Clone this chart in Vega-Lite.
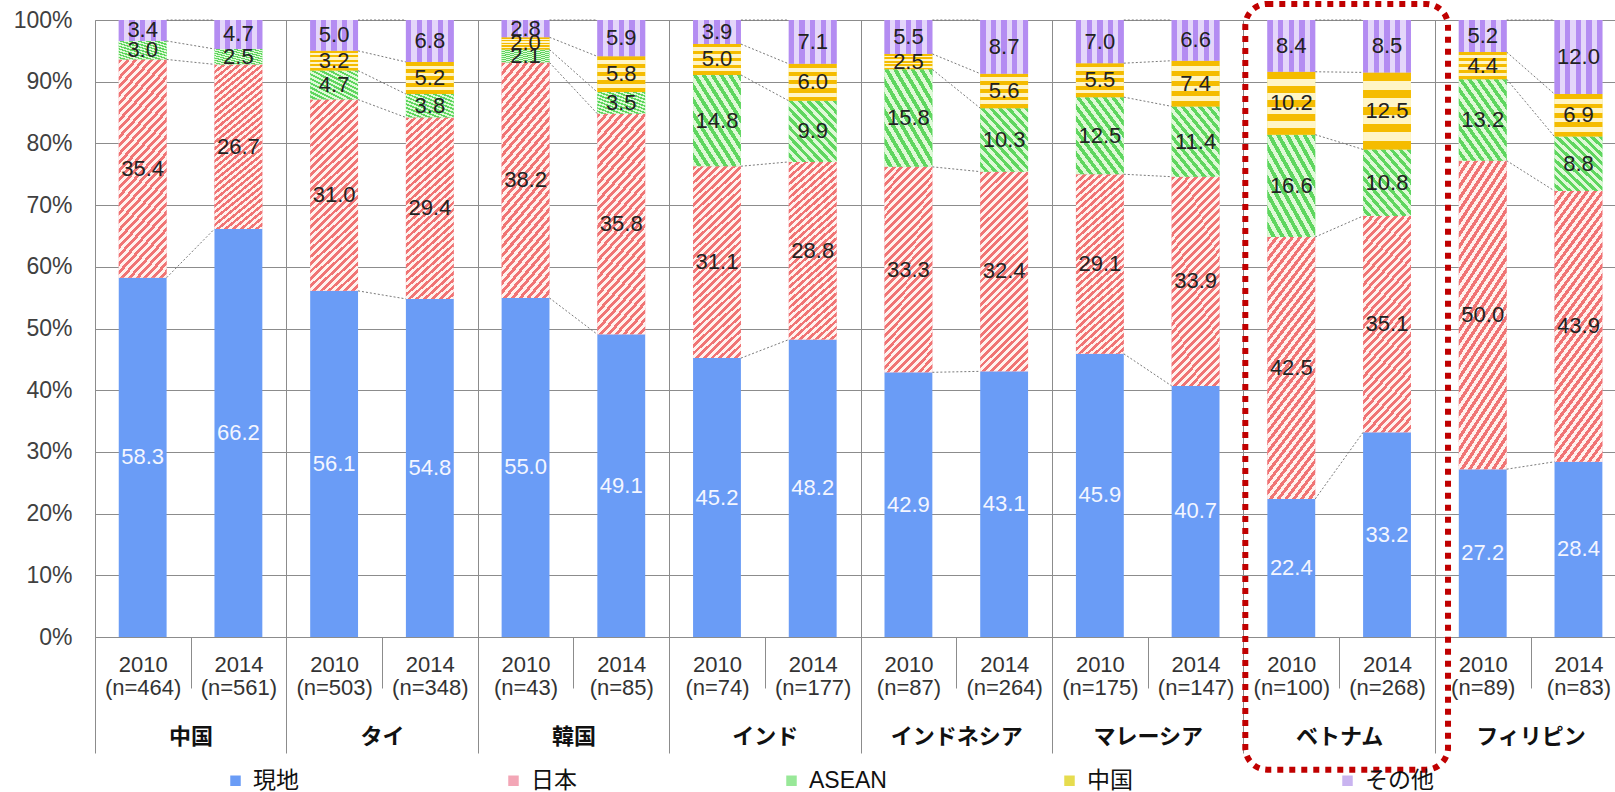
{
  "$schema": "https://vega.github.io/schema/vega-lite/v6.json",
  "width": 1520,
  "height": 617,
  "autosize": {"type": "none"},
  "padding": {"left": 95, "top": 20, "right": 0, "bottom": 155},
  "background": "white",
  "config": {"view": {"stroke": null}, "font": "Liberation Sans"},
  "data": {
    "values": [
      {"country": "中国", "year": "2010", "n": 464, "現地": 58.3, "日本": 35.4, "ASEAN": 3.0, "その他": 3.4},
      {"country": "中国", "year": "2014", "n": 561, "現地": 66.2, "日本": 26.7, "ASEAN": 2.5, "その他": 4.7},
      {"country": "タイ", "year": "2010", "n": 503, "現地": 56.1, "日本": 31.0, "ASEAN": 4.7, "中国": 3.2, "その他": 5.0},
      {"country": "タイ", "year": "2014", "n": 348, "現地": 54.8, "日本": 29.4, "ASEAN": 3.8, "中国": 5.2, "その他": 6.8},
      {"country": "韓国", "year": "2010", "n": 43, "現地": 55.0, "日本": 38.2, "ASEAN": 2.1, "中国": 2.0, "その他": 2.8},
      {"country": "韓国", "year": "2014", "n": 85, "現地": 49.1, "日本": 35.8, "ASEAN": 3.5, "中国": 5.8, "その他": 5.9},
      {"country": "インド", "year": "2010", "n": 74, "現地": 45.2, "日本": 31.1, "ASEAN": 14.8, "中国": 5.0, "その他": 3.9},
      {"country": "インド", "year": "2014", "n": 177, "現地": 48.2, "日本": 28.8, "ASEAN": 9.9, "中国": 6.0, "その他": 7.1},
      {"country": "インドネシア", "year": "2010", "n": 87, "現地": 42.9, "日本": 33.3, "ASEAN": 15.8, "中国": 2.5, "その他": 5.5},
      {"country": "インドネシア", "year": "2014", "n": 264, "現地": 43.1, "日本": 32.4, "ASEAN": 10.3, "中国": 5.6, "その他": 8.7},
      {"country": "マレーシア", "year": "2010", "n": 175, "現地": 45.9, "日本": 29.1, "ASEAN": 12.5, "中国": 5.5, "その他": 7.0},
      {"country": "マレーシア", "year": "2014", "n": 147, "現地": 40.7, "日本": 33.9, "ASEAN": 11.4, "中国": 7.4, "その他": 6.6},
      {"country": "ベトナム", "year": "2010", "n": 100, "現地": 22.4, "日本": 42.5, "ASEAN": 16.6, "中国": 10.2, "その他": 8.4},
      {"country": "ベトナム", "year": "2014", "n": 268, "現地": 33.2, "日本": 35.1, "ASEAN": 10.8, "中国": 12.5, "その他": 8.5},
      {"country": "フィリピン", "year": "2010", "n": 89, "現地": 27.2, "日本": 50.0, "ASEAN": 13.2, "中国": 4.4, "その他": 5.2},
      {"country": "フィリピン", "year": "2014", "n": 83, "現地": 28.4, "日本": 43.9, "ASEAN": 8.8, "中国": 6.9, "その他": 12.0}
    ]
  },
  "transform": [
    {"fold": ["現地", "日本", "ASEAN", "中国", "その他"], "as": ["cat", "v"]},
    {"filter": "isValid(datum.v)"},
    {"calculate": "datum.country + '|' + datum.year + '|(n=' + datum.n + ')'", "as": "key"},
    {"calculate": "indexof(['現地','日本','ASEAN','中国','その他'], datum.cat)", "as": "o"},
    {"stack": "v", "groupby": ["key"], "sort": [{"field": "o", "order": "ascending"}], "offset": "normalize", "as": ["y0", "y1"]},
    {"calculate": "(datum.y0 + datum.y1) / 2", "as": "mid"}
  ],
  "resolve": {"axis": {"x": "independent", "y": "independent"}},
  "layer": [
    {
      "mark": {"type": "bar", "strokeWidth": 0},
      "encoding": {
        "x": {
          "field": "key", "type": "nominal", "sort": null,
          "scale": {
            "domain": ["中国|2010|(n=464)", "中国|2014|(n=561)", "タイ|2010|(n=503)", "タイ|2014|(n=348)", "韓国|2010|(n=43)", "韓国|2014|(n=85)", "インド|2010|(n=74)", "インド|2014|(n=177)", "インドネシア|2010|(n=87)", "インドネシア|2014|(n=264)", "マレーシア|2010|(n=175)", "マレーシア|2014|(n=147)", "ベトナム|2010|(n=100)", "ベトナム|2014|(n=268)", "フィリピン|2010|(n=89)", "フィリピン|2014|(n=83)"],
            "paddingInner": 0.5, "paddingOuter": 0.19, "align": 0.653
          },
          "axis": {
            "title": null, "orient": "bottom",
            "labelExpr": "[split(datum.value,'|')[1], split(datum.value,'|')[2]]",
            "labelAngle": 0, "labelFontSize": 22, "labelLineHeight": 23,
            "labelColor": "#333333", "labelFont": "Liberation Sans", "labelBaseline": "top",
            "labelOverlap": false, "tickOffset": -47.86, "labelOffset": 47.86,
            "tickSize": 51, "tickColor": "#8c8c8c", "domainColor": "#8c8c8c", "labelPadding": -34,
            "grid": true, "gridColor": "#8c8c8c",
            "gridOpacity": {"condition": {"test": "indexof(datum.value,'2010')>=0", "value": 1}, "value": 0}
          }
        },
        "y": {
          "field": "y0", "type": "quantitative", "stack": null,
          "scale": {"domain": [0, 1], "nice": false},
          "axis": {
            "title": null, "format": ".0%", "values": [0, 0.1, 0.2, 0.3, 0.4, 0.5, 0.6, 0.7, 0.8, 0.9, 1],
            "grid": true, "gridColor": "#8c8c8c", "domainColor": "#8c8c8c", "ticks": false,
            "labelFontSize": 23, "labelColor": "#404040", "labelPadding": 23, "labelFont": "Liberation Sans"
          }
        },
        "y2": {"field": "y1"},
        "color": {
          "field": "cat", "type": "nominal",
          "scale": {"domain": ["現地", "日本", "ASEAN", "中国", "その他"], "range": ["#6a9cf6", "#f3a6b6", "#98e898", "#e6dc4e", "#c9b4f0"]},
          "legend": {
            "title": null, "orient": "none", "legendX": 129, "legendY": 749,
            "direction": "horizontal", "columns": 5, "gridAlign": "all", "columnPadding": 171,
            "symbolType": "square", "symbolSize": 110, "symbolStrokeWidth": 0,
            "labelFontSize": 23, "labelFont": "Liberation Sans, Noto Sans CJK JP", "labelColor": "#111111",
            "labelOffset": 6, "padding": 0
          }
        }
      }
    },
    {
      "transform": [{"filter": "datum.cat == '日本'"}],
      "mark": {
        "type": "bar", "strokeWidth": 0,
        "fill": {
          "gradient": "linear", "x1": 0, "y1": 0, "x2": 0.279, "y2": 1.172,
          "stops": [
            {"offset": 0, "color": "#f07474"}, {"offset": 0.015625, "color": "#f07474"}, {"offset": 0.015625, "color": "#fff2ee"}, {"offset": 0.03125, "color": "#fff2ee"},
            {"offset": 0.03125, "color": "#f07474"}, {"offset": 0.046875, "color": "#f07474"}, {"offset": 0.046875, "color": "#fff2ee"}, {"offset": 0.0625, "color": "#fff2ee"},
            {"offset": 0.0625, "color": "#f07474"}, {"offset": 0.078125, "color": "#f07474"}, {"offset": 0.078125, "color": "#fff2ee"}, {"offset": 0.09375, "color": "#fff2ee"},
            {"offset": 0.09375, "color": "#f07474"}, {"offset": 0.109375, "color": "#f07474"}, {"offset": 0.109375, "color": "#fff2ee"}, {"offset": 0.125, "color": "#fff2ee"},
            {"offset": 0.125, "color": "#f07474"}, {"offset": 0.140625, "color": "#f07474"}, {"offset": 0.140625, "color": "#fff2ee"}, {"offset": 0.15625, "color": "#fff2ee"},
            {"offset": 0.15625, "color": "#f07474"}, {"offset": 0.171875, "color": "#f07474"}, {"offset": 0.171875, "color": "#fff2ee"}, {"offset": 0.1875, "color": "#fff2ee"},
            {"offset": 0.1875, "color": "#f07474"}, {"offset": 0.203125, "color": "#f07474"}, {"offset": 0.203125, "color": "#fff2ee"}, {"offset": 0.21875, "color": "#fff2ee"},
            {"offset": 0.21875, "color": "#f07474"}, {"offset": 0.234375, "color": "#f07474"}, {"offset": 0.234375, "color": "#fff2ee"}, {"offset": 0.25, "color": "#fff2ee"},
            {"offset": 0.25, "color": "#f07474"}, {"offset": 0.265625, "color": "#f07474"}, {"offset": 0.265625, "color": "#fff2ee"}, {"offset": 0.28125, "color": "#fff2ee"},
            {"offset": 0.28125, "color": "#f07474"}, {"offset": 0.296875, "color": "#f07474"}, {"offset": 0.296875, "color": "#fff2ee"}, {"offset": 0.3125, "color": "#fff2ee"},
            {"offset": 0.3125, "color": "#f07474"}, {"offset": 0.328125, "color": "#f07474"}, {"offset": 0.328125, "color": "#fff2ee"}, {"offset": 0.34375, "color": "#fff2ee"},
            {"offset": 0.34375, "color": "#f07474"}, {"offset": 0.359375, "color": "#f07474"}, {"offset": 0.359375, "color": "#fff2ee"}, {"offset": 0.375, "color": "#fff2ee"},
            {"offset": 0.375, "color": "#f07474"}, {"offset": 0.390625, "color": "#f07474"}, {"offset": 0.390625, "color": "#fff2ee"}, {"offset": 0.40625, "color": "#fff2ee"},
            {"offset": 0.40625, "color": "#f07474"}, {"offset": 0.421875, "color": "#f07474"}, {"offset": 0.421875, "color": "#fff2ee"}, {"offset": 0.4375, "color": "#fff2ee"},
            {"offset": 0.4375, "color": "#f07474"}, {"offset": 0.453125, "color": "#f07474"}, {"offset": 0.453125, "color": "#fff2ee"}, {"offset": 0.46875, "color": "#fff2ee"},
            {"offset": 0.46875, "color": "#f07474"}, {"offset": 0.484375, "color": "#f07474"}, {"offset": 0.484375, "color": "#fff2ee"}, {"offset": 0.5, "color": "#fff2ee"},
            {"offset": 0.5, "color": "#f07474"}, {"offset": 0.515625, "color": "#f07474"}, {"offset": 0.515625, "color": "#fff2ee"}, {"offset": 0.53125, "color": "#fff2ee"},
            {"offset": 0.53125, "color": "#f07474"}, {"offset": 0.546875, "color": "#f07474"}, {"offset": 0.546875, "color": "#fff2ee"}, {"offset": 0.5625, "color": "#fff2ee"},
            {"offset": 0.5625, "color": "#f07474"}, {"offset": 0.578125, "color": "#f07474"}, {"offset": 0.578125, "color": "#fff2ee"}, {"offset": 0.59375, "color": "#fff2ee"},
            {"offset": 0.59375, "color": "#f07474"}, {"offset": 0.609375, "color": "#f07474"}, {"offset": 0.609375, "color": "#fff2ee"}, {"offset": 0.625, "color": "#fff2ee"},
            {"offset": 0.625, "color": "#f07474"}, {"offset": 0.640625, "color": "#f07474"}, {"offset": 0.640625, "color": "#fff2ee"}, {"offset": 0.65625, "color": "#fff2ee"},
            {"offset": 0.65625, "color": "#f07474"}, {"offset": 0.671875, "color": "#f07474"}, {"offset": 0.671875, "color": "#fff2ee"}, {"offset": 0.6875, "color": "#fff2ee"},
            {"offset": 0.6875, "color": "#f07474"}, {"offset": 0.703125, "color": "#f07474"}, {"offset": 0.703125, "color": "#fff2ee"}, {"offset": 0.71875, "color": "#fff2ee"},
            {"offset": 0.71875, "color": "#f07474"}, {"offset": 0.734375, "color": "#f07474"}, {"offset": 0.734375, "color": "#fff2ee"}, {"offset": 0.75, "color": "#fff2ee"},
            {"offset": 0.75, "color": "#f07474"}, {"offset": 0.765625, "color": "#f07474"}, {"offset": 0.765625, "color": "#fff2ee"}, {"offset": 0.78125, "color": "#fff2ee"},
            {"offset": 0.78125, "color": "#f07474"}, {"offset": 0.796875, "color": "#f07474"}, {"offset": 0.796875, "color": "#fff2ee"}, {"offset": 0.8125, "color": "#fff2ee"},
            {"offset": 0.8125, "color": "#f07474"}, {"offset": 0.828125, "color": "#f07474"}, {"offset": 0.828125, "color": "#fff2ee"}, {"offset": 0.84375, "color": "#fff2ee"},
            {"offset": 0.84375, "color": "#f07474"}, {"offset": 0.859375, "color": "#f07474"}, {"offset": 0.859375, "color": "#fff2ee"}, {"offset": 0.875, "color": "#fff2ee"},
            {"offset": 0.875, "color": "#f07474"}, {"offset": 0.890625, "color": "#f07474"}, {"offset": 0.890625, "color": "#fff2ee"}, {"offset": 0.90625, "color": "#fff2ee"},
            {"offset": 0.90625, "color": "#f07474"}, {"offset": 0.921875, "color": "#f07474"}, {"offset": 0.921875, "color": "#fff2ee"}, {"offset": 0.9375, "color": "#fff2ee"},
            {"offset": 0.9375, "color": "#f07474"}, {"offset": 0.953125, "color": "#f07474"}, {"offset": 0.953125, "color": "#fff2ee"}, {"offset": 0.96875, "color": "#fff2ee"},
            {"offset": 0.96875, "color": "#f07474"}, {"offset": 0.984375, "color": "#f07474"}, {"offset": 0.984375, "color": "#fff2ee"}, {"offset": 1, "color": "#fff2ee"}
          ]
        }
      },
      "encoding": {
        "x": {"field": "key", "type": "nominal", "sort": null, "axis": null},
        "y": {"field": "y0", "type": "quantitative", "stack": null, "axis": null},
        "y2": {"field": "y1"}
      }
    },
    {
      "transform": [{"filter": "datum.cat == 'ASEAN'"}],
      "mark": {
        "type": "bar", "strokeWidth": 0,
        "fill": {
          "gradient": "linear", "x1": 1, "y1": 0, "x2": 0.098, "y2": 1.082,
          "stops": [
            {"offset": 0, "color": "#5fd65f"}, {"offset": 0.041667, "color": "#5fd65f"}, {"offset": 0.041667, "color": "#e0f9d8"}, {"offset": 0.083333, "color": "#e0f9d8"},
            {"offset": 0.083333, "color": "#5fd65f"}, {"offset": 0.125, "color": "#5fd65f"}, {"offset": 0.125, "color": "#e0f9d8"}, {"offset": 0.166667, "color": "#e0f9d8"},
            {"offset": 0.166667, "color": "#5fd65f"}, {"offset": 0.208333, "color": "#5fd65f"}, {"offset": 0.208333, "color": "#e0f9d8"}, {"offset": 0.25, "color": "#e0f9d8"},
            {"offset": 0.25, "color": "#5fd65f"}, {"offset": 0.291667, "color": "#5fd65f"}, {"offset": 0.291667, "color": "#e0f9d8"}, {"offset": 0.333333, "color": "#e0f9d8"},
            {"offset": 0.333333, "color": "#5fd65f"}, {"offset": 0.375, "color": "#5fd65f"}, {"offset": 0.375, "color": "#e0f9d8"}, {"offset": 0.416667, "color": "#e0f9d8"},
            {"offset": 0.416667, "color": "#5fd65f"}, {"offset": 0.458333, "color": "#5fd65f"}, {"offset": 0.458333, "color": "#e0f9d8"}, {"offset": 0.5, "color": "#e0f9d8"},
            {"offset": 0.5, "color": "#5fd65f"}, {"offset": 0.541667, "color": "#5fd65f"}, {"offset": 0.541667, "color": "#e0f9d8"}, {"offset": 0.583333, "color": "#e0f9d8"},
            {"offset": 0.583333, "color": "#5fd65f"}, {"offset": 0.625, "color": "#5fd65f"}, {"offset": 0.625, "color": "#e0f9d8"}, {"offset": 0.666667, "color": "#e0f9d8"},
            {"offset": 0.666667, "color": "#5fd65f"}, {"offset": 0.708333, "color": "#5fd65f"}, {"offset": 0.708333, "color": "#e0f9d8"}, {"offset": 0.75, "color": "#e0f9d8"},
            {"offset": 0.75, "color": "#5fd65f"}, {"offset": 0.791667, "color": "#5fd65f"}, {"offset": 0.791667, "color": "#e0f9d8"}, {"offset": 0.833333, "color": "#e0f9d8"},
            {"offset": 0.833333, "color": "#5fd65f"}, {"offset": 0.875, "color": "#5fd65f"}, {"offset": 0.875, "color": "#e0f9d8"}, {"offset": 0.916667, "color": "#e0f9d8"},
            {"offset": 0.916667, "color": "#5fd65f"}, {"offset": 0.958333, "color": "#5fd65f"}, {"offset": 0.958333, "color": "#e0f9d8"}, {"offset": 1, "color": "#e0f9d8"}
          ]
        }
      },
      "encoding": {
        "x": {"field": "key", "type": "nominal", "sort": null, "axis": null},
        "y": {"field": "y0", "type": "quantitative", "stack": null, "axis": null},
        "y2": {"field": "y1"}
      }
    },
    {
      "transform": [{"filter": "datum.cat == '中国'"}],
      "mark": {
        "type": "bar", "strokeWidth": 0,
        "fill": {
          "gradient": "linear", "x1": 0, "y1": 0, "x2": 0, "y2": 1,
          "stops": [
            {"offset": 0, "color": "#f5bc00"}, {"offset": 0.111111, "color": "#f5bc00"}, {"offset": 0.111111, "color": "#fff5c6"}, {"offset": 0.222222, "color": "#fff5c6"},
            {"offset": 0.222222, "color": "#f5bc00"}, {"offset": 0.333333, "color": "#f5bc00"}, {"offset": 0.333333, "color": "#fff5c6"}, {"offset": 0.444444, "color": "#fff5c6"},
            {"offset": 0.444444, "color": "#f5bc00"}, {"offset": 0.555556, "color": "#f5bc00"}, {"offset": 0.555556, "color": "#fff5c6"}, {"offset": 0.666667, "color": "#fff5c6"},
            {"offset": 0.666667, "color": "#f5bc00"}, {"offset": 0.777778, "color": "#f5bc00"}, {"offset": 0.777778, "color": "#fff5c6"}, {"offset": 0.888889, "color": "#fff5c6"},
            {"offset": 0.888889, "color": "#f5bc00"}, {"offset": 1, "color": "#f5bc00"}
          ]
        }
      },
      "encoding": {
        "x": {"field": "key", "type": "nominal", "sort": null, "axis": null},
        "y": {"field": "y0", "type": "quantitative", "stack": null, "axis": null},
        "y2": {"field": "y1"}
      }
    },
    {
      "transform": [{"filter": "datum.cat == 'その他'"}],
      "mark": {
        "type": "bar", "strokeWidth": 0,
        "fill": {
          "gradient": "linear", "x1": 0, "y1": 0, "x2": 1, "y2": 0,
          "stops": [
            {"offset": 0, "color": "#b48cf2"}, {"offset": 0.111111, "color": "#b48cf2"}, {"offset": 0.111111, "color": "#e4d6fa"}, {"offset": 0.222222, "color": "#e4d6fa"},
            {"offset": 0.222222, "color": "#b48cf2"}, {"offset": 0.333333, "color": "#b48cf2"}, {"offset": 0.333333, "color": "#e4d6fa"}, {"offset": 0.444444, "color": "#e4d6fa"},
            {"offset": 0.444444, "color": "#b48cf2"}, {"offset": 0.555556, "color": "#b48cf2"}, {"offset": 0.555556, "color": "#e4d6fa"}, {"offset": 0.666667, "color": "#e4d6fa"},
            {"offset": 0.666667, "color": "#b48cf2"}, {"offset": 0.777778, "color": "#b48cf2"}, {"offset": 0.777778, "color": "#e4d6fa"}, {"offset": 0.888889, "color": "#e4d6fa"},
            {"offset": 0.888889, "color": "#b48cf2"}, {"offset": 1, "color": "#b48cf2"}
          ]
        }
      },
      "encoding": {
        "x": {"field": "key", "type": "nominal", "sort": null, "axis": null},
        "y": {"field": "y0", "type": "quantitative", "stack": null, "axis": null},
        "y2": {"field": "y1"}
      }
    },
    {
      "transform": [
        {"window": [{"op": "lead", "field": "y1", "as": "ny1"}, {"op": "lead", "field": "key", "as": "nkey"}], "groupby": ["country", "cat"], "sort": [{"field": "year", "order": "ascending"}]},
        {"filter": "datum.nkey != null"}
      ],
      "mark": {"type": "rule", "xOffset": 23.93, "x2Offset": -23.93, "color": "#7a7a7a", "strokeWidth": 1, "strokeDash": [2, 2]},
      "encoding": {
        "x": {"field": "key", "type": "nominal", "sort": null, "axis": null},
        "x2": {"field": "nkey"},
        "y": {"field": "y1", "type": "quantitative", "axis": null},
        "y2": {"field": "ny1"}
      }
    },
    {
      "mark": {"type": "text", "fontSize": 22, "font": "Liberation Sans"},
      "encoding": {
        "x": {
          "field": "key", "type": "nominal", "sort": null,
          "axis": {
            "title": null, "orient": "bottom", "domain": false, "grid": false,
            "labelExpr": "indexof(datum.value,'2010')>=0 ? split(datum.value,'|')[0] : ''",
            "labelAngle": 0, "labelFontSize": 22, "labelFont": "Noto Sans CJK JP", "labelFontWeight": "bold",
            "labelColor": "#111111", "labelBaseline": "middle", "labelOverlap": false,
            "tickOffset": -47.86, "labelOffset": 95.72, "tickSize": 116, "tickColor": "#8c8c8c",
            "tickOpacity": {"condition": {"test": "indexof(datum.value,'2010')>=0", "value": 1}, "value": 0},
            "labelPadding": -17
          }
        },
        "y": {"field": "mid", "type": "quantitative", "axis": null},
        "text": {"field": "v", "type": "quantitative", "format": ".1f"},
        "color": {"condition": {"test": "datum.cat == '現地'", "value": "#f4f6ff"}, "value": "#222222"}
      }
    },
    {
      "transform": [{"filter": "datum.key == 'ベトナム|2010|(n=100)' && datum.cat == '現地'"}],
      "mark": {"type": "rect", "filled": false, "fill": null, "stroke": "#c00000", "strokeWidth": 6, "strokeDash": [6, 6], "cornerRadius": 22, "xOffset": -46, "x2Offset": 61},
      "encoding": {
        "x": {"datum": "ベトナム|2010|(n=100)", "type": "nominal", "bandPosition": 0.5, "axis": null},
        "x2": {"datum": "ベトナム|2014|(n=268)", "bandPosition": 0.5},
        "y": {"datum": 1.026, "type": "quantitative", "axis": null},
        "y2": {"datum": -0.215}
      }
    }
  ]
}
